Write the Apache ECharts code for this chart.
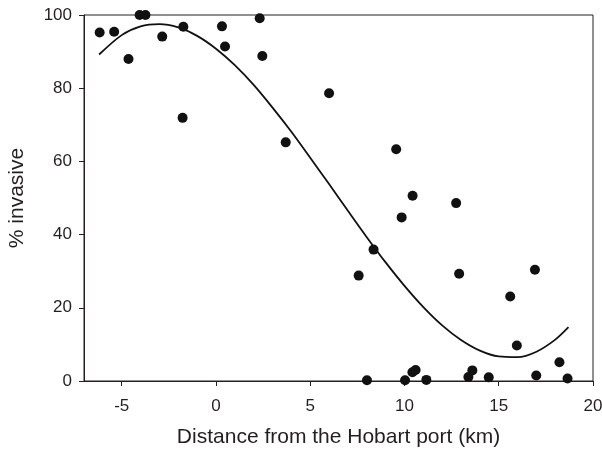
<!DOCTYPE html>
<html>
<head>
<meta charset="utf-8">
<script src="https://cdn.jsdelivr.net/npm/echarts@6/dist/echarts.min.js"></script>
<style>
  html, body { margin: 0; padding: 0; background: #fff; }
  #chart { width: 602px; height: 451px; }
</style>
</head>
<body>
<div id="chart"></div>
<script>
// observed sites: distance (km) and % invasive
const distance = [-6.17, -5.40, -4.64, -4.05, -3.74, -2.85, -1.73, -1.77, 0.32, 0.48, 2.32, 2.46, 3.70,
  6.00, 9.56, 10.43, 12.74, 9.85, 8.36, 7.57, 12.90, 16.92, 15.61, 15.96, 18.22,
  8.01, 10.03, 10.42, 10.59, 11.16, 13.39, 13.60, 14.47, 16.99, 18.65];
const invasive = [95.2, 95.4, 88.0, 100, 100, 94.1, 96.8, 71.9, 96.9, 91.4, 99.1, 88.8, 65.2,
  78.6, 63.3, 50.6, 48.6, 44.7, 35.9, 28.8, 29.3, 30.4, 23.1, 9.7, 5.1,
  0.2, 0.2, 2.4, 3.0, 0.3, 1.1, 2.9, 1.0, 1.5, 0.7];

// fitted curve
const fitX = [-6.2, -5, -4, -3, -2, -1, 0, 1, 2, 3, 4, 5, 6, 7, 8, 9, 10, 11, 12, 13, 14, 15, 16, 17, 18, 18.7];
const fitY = [89.2, 94.5, 96.9, 97.5, 96.6, 94.3, 90.8, 86.3, 80.9, 74.7, 68.1, 61.0, 53.8, 46.5, 39.3, 32.4,
  26.0, 20.2, 15.2, 11.2, 8.3, 6.7, 6.5, 8.0, 11.3, 14.7];

const xTicks = [-5, 0, 5, 10, 15, 20];

const chart = echarts.init(document.getElementById('chart'));
const font = 'Liberation Sans, Arial, sans-serif';
const ink = '#231f20';

chart.setOption({
  animation: false,
  grid: {
    left: 84, right: 9, top: 15, bottom: 70,
    outerBoundsMode: 'none',
    show: true, borderColor: ink, borderWidth: 1
  },
  xAxis: {
    type: 'value',
    min: -7, max: 20,
    name: 'Distance from the Hobart port (km)',
    nameLocation: 'middle',
    nameGap: 46,
    nameTextStyle: { fontFamily: font, fontSize: 21, color: ink },
    axisLine: { show: true, onZero: false, lineStyle: { color: ink, width: 1 } },
    axisTick: { show: true, length: 5, customValues: xTicks, lineStyle: { color: ink } },
    axisLabel: { customValues: xTicks, fontFamily: font, fontSize: 17, color: ink, margin: 17 },
    splitLine: { show: false }
  },
  yAxis: {
    type: 'value',
    min: 0, max: 100, interval: 20,
    name: '% invasive',
    nameLocation: 'middle',
    nameGap: 56,
    nameTextStyle: { fontFamily: font, fontSize: 21, color: ink },
    axisLine: { show: true, onZero: false, lineStyle: { color: ink, width: 1 } },
    axisTick: { show: true, length: 5, lineStyle: { color: ink } },
    axisLabel: { fontFamily: font, fontSize: 17, color: ink, margin: 12 },
    splitLine: { show: false }
  },
  series: [
    {
      type: 'scatter',
      data: distance.map((d, i) => [d, invasive[i]]),
      symbol: 'circle',
      symbolSize: 10,
      itemStyle: { color: '#111', opacity: 1 },
      z: 3
    },
    {
      type: 'line',
      data: fitX.map((d, i) => [d, fitY[i]]),
      smooth: 0.3,
      showSymbol: false,
      lineStyle: { color: '#111', width: 1.8 },
      z: 2
    }
  ]
});
</script>
</body>
</html>
